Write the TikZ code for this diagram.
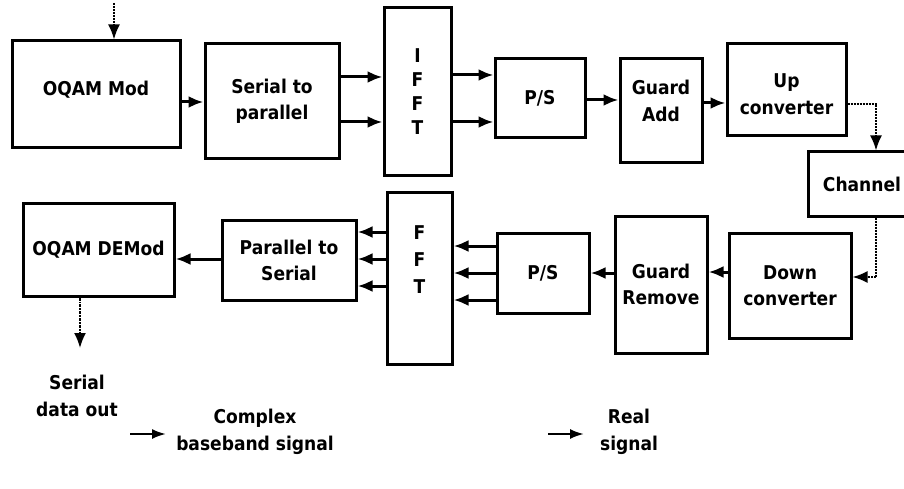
\documentclass[tikz,border=0pt]{standalone}
\usepackage{fontspec}
\setmainfont{DejaVu Sans Condensed}
\usetikzlibrary{arrows.meta,calc}

\begin{document}
\begin{tikzpicture}[x=1pt,y=-1pt,
  blk/.style={draw,line width=3pt,inner sep=0pt,align=center,
    font=\bfseries\fontsize{19}{26}\selectfont},
  sig/.style={->,>={Latex[length=15pt,width=12pt]},line width=3pt},
  dsig/.style={->,>={Latex[length=15pt,width=12pt]},line width=2pt,densely dotted},
  txt/.style={align=center,font=\bfseries\fontsize{19}{27}\selectfont}]
\useasboundingbox (0,0) rectangle (904,489);

% transmitter
\node[blk,minimum width=168pt,minimum height=107pt,label={[txt,yshift=5pt]center:OQAM Mod}] (mod) at (96,94.5) {};
\node[blk,minimum width=134pt,minimum height=115pt] (stp) at (272,101.5) {Serial to\\parallel};
\node[blk,minimum width=67pt,minimum height=168pt,font=\bfseries\fontsize{19}{24}\selectfont] (ifft) at (417.5,92) {I\\F\\F\\T};
\node[blk,minimum width=90pt,minimum height=79pt] (psa) at (540,98.5) {P/S};
\node[blk,minimum width=82pt,minimum height=104pt,label={[txt,yshift=10pt]center:Guard\\Add}] (gadd) at (661,111) {};
\node[blk,minimum width=119pt,minimum height=92pt,label={[txt,yshift=-4pt]center:Up\\converter}] (upc) at (786.5,90) {};
\node[blk,minimum width=108pt,minimum height=64pt] (chan) at (862,184) {Channel};

% receiver
\node[blk,minimum width=122pt,minimum height=105pt] (dnc) at (790,285.5) {Down\\converter};
\node[blk,minimum width=92pt,minimum height=137pt] (grm) at (661,284.5) {Guard\\Remove};
\node[blk,minimum width=92pt,minimum height=80pt] (psb) at (543,273) {P/S};
\node[blk,minimum width=65pt,minimum height=172pt,label={[txt,yshift=18pt]center:F\\F\\T}] (fft) at (419.5,278) {};
\node[blk,minimum width=134pt,minimum height=80pt] (pts) at (289,260) {Parallel to\\Serial};
\node[blk,minimum width=151pt,minimum height=93pt] (dem) at (98.5,249.5) {OQAM DEMod};

\coordinate (in) at (114,3);
\coordinate (out) at (80,348);
\node[txt] (sout) at (77,396) {Serial\\data out};

\draw[dsig] (in) -- (in |- mod.north);
\draw[sig] (mod.east |- 0,102) -- (stp.west |- 0,102);
\foreach \y in {77,122}
  \draw[sig] (stp.east |- 0,\y) -- (ifft.west |- 0,\y);
\foreach \y in {75,122}
  \draw[sig] (ifft.east |- 0,\y) -- (psa.west |- 0,\y);
\draw[sig] (psa.east |- 0,100) -- (gadd.west |- 0,100);
\draw[sig] (gadd.east |- 0,103) -- (upc.west |- 0,103);
\draw[dsig] (upc.east |- 0,104) -| (chan.north -| 876,0);
\draw[dsig] (chan.south -| 876,0) |- (dnc.east |- 0,277);
\draw[sig] (dnc.west |- 0,272) -- (grm.east |- 0,272);
\draw[sig] (grm.west |- 0,273) -- (psb.east |- 0,273);
\foreach \y in {246,273,300}
  \draw[sig] (psb.west |- 0,\y) -- (fft.east |- 0,\y);
\foreach \y in {232,259,286}
  \draw[sig] (fft.west |- 0,\y) -- (pts.east |- 0,\y);
\draw[sig] (pts.west |- 0,259) -- (dem.east |- 0,259);
\draw[->,>={Latex[length=15pt,width=12pt]},line width=1.8pt,densely dashdotted] (dem.south -| out) -- (out);

% legend
\coordinate (ca) at (130,434);
\coordinate (cb) at (166,434);
\coordinate (ra) at (548,434);
\coordinate (rb) at (584,434);
\draw[->,>={Latex[length=14pt,width=10pt]},line width=2.2pt] (ca) -- (cb);
\draw[->,>={Latex[length=14pt,width=10pt]},line width=2.2pt] (ra) -- (rb);
\node[txt] (cplx) at (255,432) {Complex\\baseband signal};
\node[txt] (real) at (629,432) {Real\\signal};

\end{tikzpicture}
\end{document}
